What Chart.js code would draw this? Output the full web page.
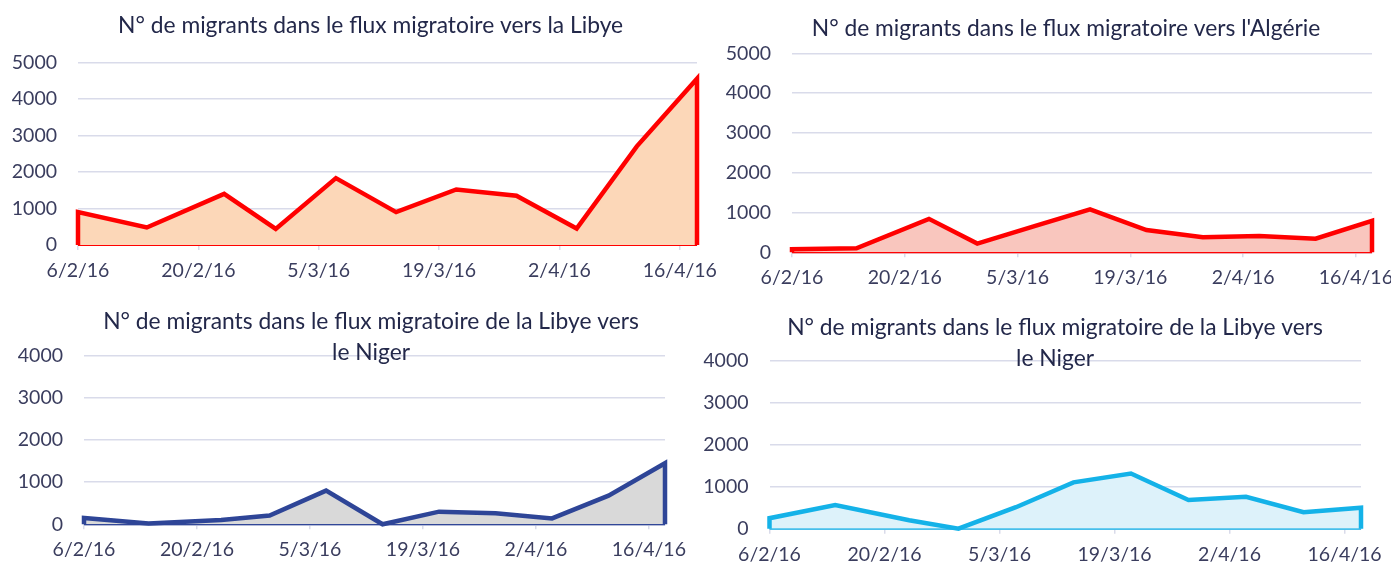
<!DOCTYPE html>
<html><head><meta charset="utf-8">
<script src="https://cdn.jsdelivr.net/npm/chart.js@4/dist/chart.umd.min.js"></script>
<style>
html,body{margin:0;padding:0;background:#fff;overflow:hidden;width:1391px;height:562px;position:relative;}
.panel{position:absolute;}
canvas{display:block;}
</style></head><body>
<div class="panel" style="left:0;top:0;"><canvas id="c1" width="741" height="290"></canvas></div>
<div class="panel" style="left:720px;top:0;"><canvas id="c2" width="692" height="290"></canvas></div>
<div class="panel" style="left:0;top:290px;"><canvas id="c3" width="742" height="272"></canvas></div>
<div class="panel" style="left:700px;top:290px;"><canvas id="c4" width="710" height="272"></canvas></div>
<script>
// ---- data ----
const dates = ['6/2/16','14/2/16','23/2/16','29/2/16','7/3/16','14/3/16','21/3/16','28/3/16','4/4/16','11/4/16','18/4/16'];
const tickLabels = ['6/2/16','20/2/16','5/3/16','19/3/16','2/4/16','16/4/16'];
const versLibye   = [900, 480, 1400, 440, 1830, 900, 1520, 1350, 450, 2700, 4550];
const versAlgerie = [75, 100, 840, 220, 650, 1080, 560, 380, 410, 340, 790];
const libyeNigerA = [150, 20, 100, 210, 800, 0, 300, 260, 140, 680, 1450];
const libyeNigerB = [250, 560, 200, 0, 510, 1100, 1310, 680, 760, 390, 500];
const titles = [
  ['N° de migrants dans le flux migratoire vers la Libye'],
  ["N° de migrants dans le flux migratoire vers l'Algérie"],
  ['N° de migrants dans le flux migratoire de la Libye vers', 'le Niger'],
  ['N° de migrants dans le flux migratoire de la Libye vers', 'le Niger']
];

// ---- helpers ----
const FONT = 'Lato, "Open Sans", sans-serif';
const TITLE_COLOR = '#23284a';
const TICK_COLOR = '#3a3d5e';
const GRID = '#d9dbea';
function toDay(s){
  const [d,m,y] = s.split('/').map(Number);
  return Math.round((Date.UTC(2000+y, m-1, d) - Date.UTC(2016,1,6)) / 86400000);
}
const dayVals = dates.map(toDay);
const tickDays = tickLabels.map(toDay);
const xMin = dayVals[0], xMax = dayVals[dayVals.length-1];

// panel title drawn as text at a set anchor of the canvas
const panelTitle = {
  id:'panelTitle',
  afterDraw(chart, args, o){
    const ctx = chart.ctx;
    ctx.save();
    ctx.font = 'normal ' + o.size + 'px ' + FONT;
    ctx.fillStyle = o.color;
    ctx.textAlign = 'center';
    ctx.textBaseline = 'middle';
    o.lines.forEach((t,i)=>ctx.fillText(t, o.x, o.y + i*o.lineGap));
    ctx.restore();
  }
};

function makeChart(id, opt){
  const pts = dayVals.map((d,i)=>({x:d, y:opt.values[i]}));
  const poly = [{x:xMin,y:0}].concat(pts, [{x:xMax,y:0}]);
  new Chart(document.getElementById(id), {
    type:'line',
    data:{datasets:[
      {data:poly, borderColor:opt.line, backgroundColor:opt.fill, borderWidth:4.5, fill:'origin',
       pointRadius:0, tension:0, borderJoinStyle:'miter', clip:false},
      {data:[{x:xMin,y:0},{x:xMax,y:0}], borderColor:opt.line, borderWidth:2, fill:false, pointRadius:0, clip:false}
    ]},
    plugins:[panelTitle],
    options:{
      responsive:false, animation:false, events:[], devicePixelRatio:1,
      layout:{padding:opt.pad},
      plugins:{
        legend:{display:false}, tooltip:{enabled:false}, title:{display:false},
        panelTitle:{lines:opt.title, x:opt.tx, y:opt.ty, lineGap:31, size:22.8, color:TITLE_COLOR}
      },
      scales:{
        x:{type:'linear', min:xMin, max:xMax,
          afterBuildTicks:(a)=>{a.ticks = tickDays.map(v=>({value:v}));},
          afterFit:(s)=>{s.height = 33;},
          ticks:{autoSkip:false, maxRotation:0, padding:9, color:TICK_COLOR,
            font:{family:FONT, size:19.5},
            callback:(v)=>{const i = tickDays.indexOf(v); return i>=0 ? tickLabels[i] : '';}},
          grid:{drawOnChartArea:false, drawTicks:true, tickLength:5, color:GRID, lineWidth:1.5},
          border:{display:true, color:GRID, width:1.5}
        },
        y:{min:0, max:opt.yMax,
          afterFit:(s)=>{s.width = 66;},
          ticks:{stepSize:1000, padding:21, color:TICK_COLOR, font:{family:FONT, size:19.5},
            callback:(v)=>String(v)},
          grid:{drawTicks:false, color:GRID, lineWidth:1.5},
          border:{display:false}
        }
      }
    }
  });
}

makeChart('c1', {values:versLibye, title:titles[0], line:'#ff0000', fill:'#fcd7b8', yMax:5000,
  pad:{left:12, right:44, top:62.3, bottom:12}, tx:370.6, ty:26});
makeChart('c2', {values:versAlgerie, title:titles[1], line:'#ff0000', fill:'#f9c6be', yMax:5000,
  pad:{left:6, right:40, top:53.3, bottom:4.7}, tx:346, ty:29});
makeChart('c3', {values:libyeNigerA, title:titles[2], line:'#2e4597', fill:'#d9d9d9', yMax:4000,
  pad:{left:18, right:77, top:65.7, bottom:4.7}, tx:371, ty:32});
makeChart('c4', {values:libyeNigerB, title:titles[3], line:'#14b2e8', fill:'#ddf2fa', yMax:4000,
  pad:{left:3.5, right:49, top:70.3, bottom:0.3}, tx:355, ty:38});
</script>
</body></html>
